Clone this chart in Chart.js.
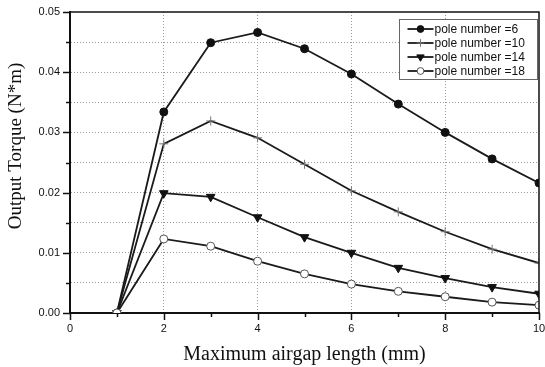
<!DOCTYPE html>
<html>
<head>
<meta charset="utf-8">
<script src="https://cdn.jsdelivr.net/npm/chart.js@4.4.0/dist/chart.umd.min.js"></script>
<style>
  html, body { margin: 0; padding: 0; background: #fff; }
  #wrap { width: 545px; height: 367px; }
</style>
</head>
<body>
<div id="wrap"><canvas id="chart" width="545" height="367"></canvas></div>
<script>
// Datos
const airgap = [1, 2, 3, 4, 5, 6, 7, 8, 9, 10];
const pole6  = [0, 0.0334, 0.0449, 0.0466, 0.0439, 0.0397, 0.0347, 0.0300, 0.0256, 0.0216];
const pole10 = [0, 0.0281, 0.0319, 0.0291, 0.0247, 0.0203, 0.0168, 0.0135, 0.0106, 0.0083];
const pole14 = [0, 0.0199, 0.0193, 0.0159, 0.0126, 0.0100, 0.0075, 0.0058, 0.0043, 0.0032];
const pole18 = [0, 0.0123, 0.0111, 0.0086, 0.0065, 0.0048, 0.0036, 0.0027, 0.0018, 0.0013];
const seriesLabels = ['pole number =6', 'pole number =10', 'pole number =14', 'pole number =18'];
const xTicks = [0, 2, 4, 6, 8, 10];
const yTitle = 'Output Torque (N*m)';

function pts(ys) {
    return airgap.map((x, i) => ({ x: x, y: ys[i] }));
}

const lineColor = '#1a1a1a';
const gridColor = '#9a9a9a';
const estilos = [
    { pointStyle: 'circle',   pointRadius: 4, pointBackgroundColor: '#111', pointBorderColor: '#111', pointBorderWidth: 1, pointRotation: 0 },
    { pointStyle: 'cross',    pointRadius: 4.5, pointBackgroundColor: '#777', pointBorderColor: '#777', pointBorderWidth: 1, pointRotation: 0 },
    { pointStyle: 'triangle', pointRadius: 5, pointBackgroundColor: '#111', pointBorderColor: '#111', pointBorderWidth: 1, pointRotation: 180 },
    { pointStyle: 'circle',   pointRadius: 4, pointBackgroundColor: '#fff', pointBorderColor: '#555', pointBorderWidth: 1, pointRotation: 0 }
];

const datasets = [pole6, pole10, pole14, pole18].map((ys, i) => Object.assign({
    label: seriesLabels[i],
    data: pts(ys),
    borderColor: lineColor,
    borderWidth: 1.8,
    showLine: true,
    fill: false,
    tension: 0,
    order: 4 - i
}, estilos[i]));

// Marco, ticks, título del eje Y y leyenda dibujados a mano
const extras = {
    id: 'extras',
    afterDraw(chart) {
        const ctx = chart.ctx;
        const a = chart.chartArea;
        const xs = chart.scales.x, ys = chart.scales.y;
        ctx.save();
        // marco superior y derecho
        ctx.strokeStyle = '#111';
        ctx.lineWidth = 1.5;
        ctx.beginPath();
        ctx.moveTo(a.left, a.top);
        ctx.lineTo(a.right, a.top);
        ctx.lineTo(a.right, a.bottom);
        ctx.stroke();
        // ticks
        ctx.lineWidth = 1.5;
        ys.ticks.forEach(t => {
            const major = Math.round(t.value * 1000) % 10 === 0;
            const p = Math.round(ys.getPixelForValue(t.value)) + 0.5;
            ctx.beginPath();
            ctx.moveTo(a.left - (major ? 7 : 4), p);
            ctx.lineTo(a.left, p);
            ctx.stroke();
        });
        xs.ticks.forEach(t => {
            const major = t.value % 2 === 0;
            const p = Math.round(xs.getPixelForValue(t.value)) + 0.5;
            ctx.beginPath();
            ctx.moveTo(p, a.bottom);
            ctx.lineTo(p, a.bottom + (major ? 7 : 4));
            ctx.stroke();
        });
        // título del eje Y
        ctx.save();
        ctx.translate(16, 146);
        ctx.rotate(-Math.PI / 2);
        ctx.font = '19px "Liberation Serif", "DejaVu Serif", serif';
        ctx.fillStyle = '#111';
        ctx.textAlign = 'center';
        ctx.textBaseline = 'middle';
        ctx.fillText(yTitle, 0, 0);
        ctx.restore();
        // leyenda
        const lx = 399.5, ly = 19.5, lw = 138, lh = 60;
        ctx.fillStyle = '#fff';
        ctx.fillRect(lx, ly, lw, lh);
        ctx.strokeStyle = '#666';
        ctx.lineWidth = 1;
        ctx.strokeRect(lx, ly, lw, lh);
        ctx.font = '12px "Liberation Sans", Arial, sans-serif';
        ctx.textBaseline = 'middle';
        chart.data.datasets.forEach((ds, i) => {
            const cy = ly + 9.5 + i * 14;
            ctx.strokeStyle = lineColor;
            ctx.lineWidth = 1.8;
            ctx.beginPath();
            ctx.moveTo(lx + 8, cy);
            ctx.lineTo(lx + 34, cy);
            ctx.stroke();
            ctx.fillStyle = ds.pointBackgroundColor;
            ctx.strokeStyle = ds.pointBorderColor;
            ctx.lineWidth = 1;
            Chart.helpers.drawPoint(ctx, {
                pointStyle: ds.pointStyle,
                radius: ds.pointRadius * 0.85,
                rotation: ds.pointRotation,
                borderWidth: 1
            }, lx + 21, cy);
            ctx.fillStyle = '#111';
            ctx.fillText(ds.label, lx + 35, cy + 0.5);
        });
        ctx.restore();
    }
};

const ctx = document.getElementById('chart').getContext('2d');
new Chart(ctx, {
    type: 'scatter',
    data: { datasets: datasets },
    options: {
        responsive: false,
        animation: false,
        layout: { padding: { top: 12, right: 4, left: 0, bottom: 0 } },
        plugins: {
            legend: { display: false },
            tooltip: { enabled: false }
        },
        scales: {
            x: {
                type: 'linear',
                min: 0,
                max: 10,
                afterFit: s => { s.height = 54; s.paddingRight = 0; s.paddingLeft = 0; },
                afterBuildTicks: s => {
                    s.ticks = [0].concat(airgap).map(v => ({ value: v }));
                },
                ticks: {
                    color: '#111',
                    padding: 9,
                    font: { family: '"Liberation Sans", Arial, sans-serif', size: 11 },
                    autoSkip: false,
                    maxRotation: 0,
                    callback: v => xTicks.includes(v) ? String(v) : ''
                },
                grid: {
                    drawTicks: false,
                    color: c => (c.tick && c.tick.value % 2 === 0 && c.tick.value > 0 && c.tick.value < 10) ? gridColor : 'rgba(0,0,0,0)',
                    lineWidth: 1
                },
                border: { display: true, color: '#111', width: 2, dash: [1, 2] },
                title: {
                    display: true,
                    text: 'Maximum airgap length (mm)',
                    color: '#111',
                    font: { family: '"Liberation Serif", "DejaVu Serif", serif', size: 20 },
                    padding: { top: 2, bottom: 0 }
                }
            },
            y: {
                min: 0,
                max: 0.05,
                afterFit: s => { s.width = 70; s.paddingTop = 0; s.paddingBottom = 0; },
                ticks: {
                    stepSize: 0.005,
                    color: '#111',
                    padding: 10,
                    font: { family: '"Liberation Sans", Arial, sans-serif', size: 11 },
                    autoSkip: false,
                    callback: v => {
                        const r = Math.round(v * 1000);
                        return r % 10 === 0 ? (r / 1000).toFixed(2) : '';
                    }
                },
                grid: {
                    drawTicks: false,
                    color: c => (c.tick && c.tick.value > 0.0001 && c.tick.value < 0.0499) ? gridColor : 'rgba(0,0,0,0)',
                    lineWidth: 1
                },
                border: { display: true, color: '#111', width: 2, dash: [1, 2] }
            }
        }
    },
    plugins: [extras]
});
</script>
</body>
</html>
